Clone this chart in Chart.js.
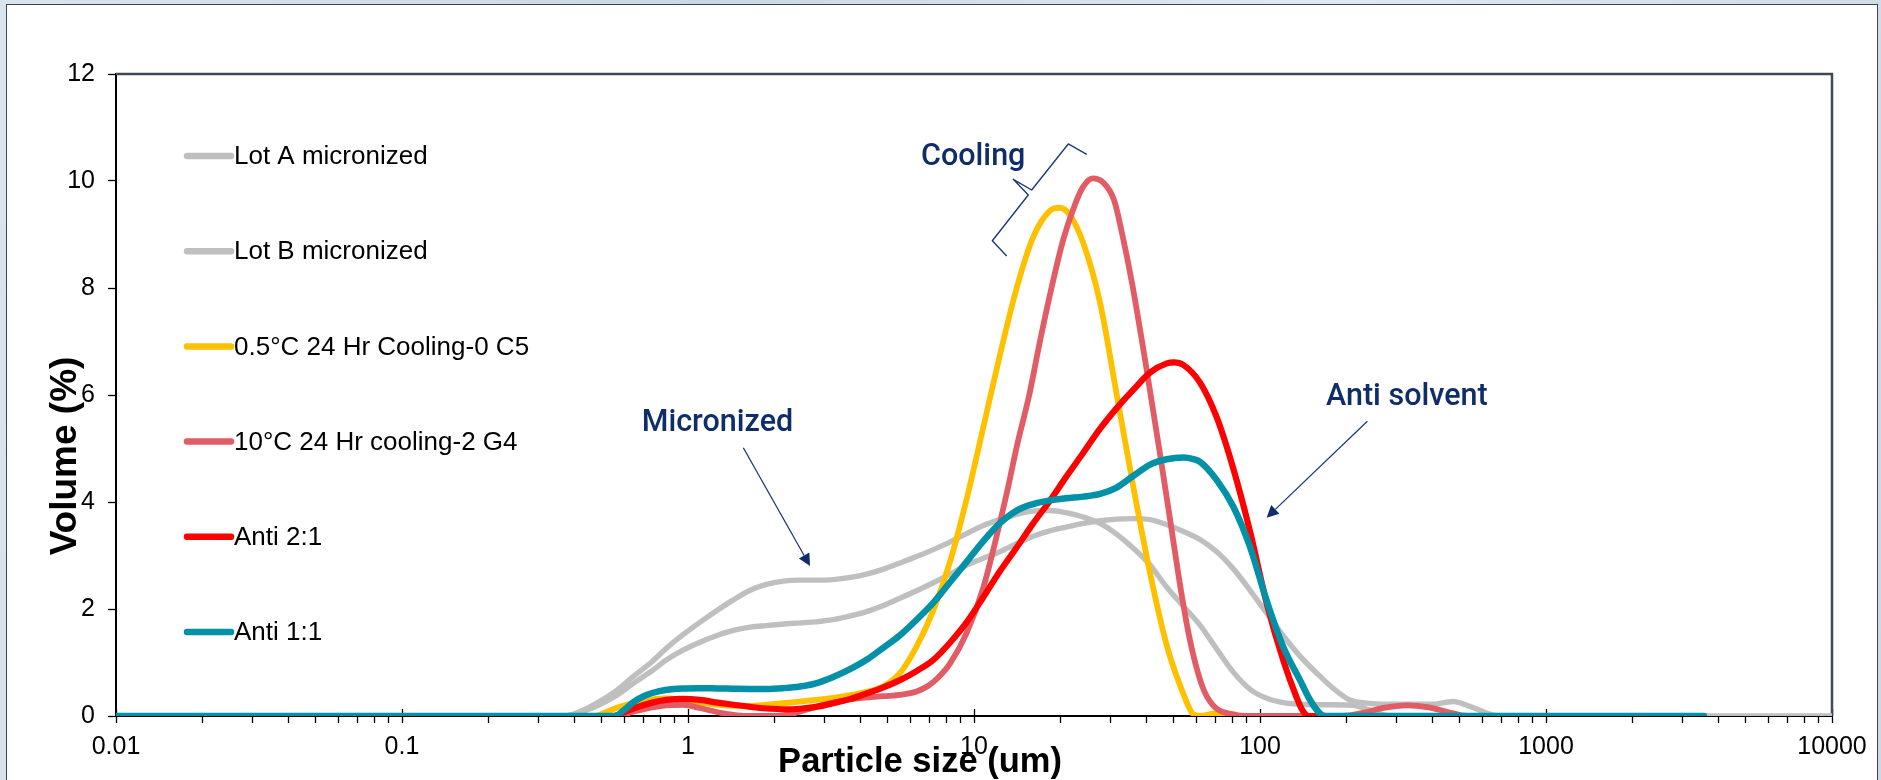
<!DOCTYPE html>
<html>
<head>
<meta charset="utf-8">
<title>Particle size distribution</title>
<script src="https://cdn.jsdelivr.net/npm/chart.js@4.4.1/dist/chart.umd.min.js"></script>
<style>
  html, body { margin: 0; padding: 0; }
  body {
    width: 1881px; height: 780px; overflow: hidden; position: relative;
    background: linear-gradient(100deg, #dae4ec 0%, #cad8e3 35%, #e0e8ef 65%, #ccd9e4 100%);
  }
  #panel {
    position: absolute; left: 6px; top: 4px; width: 1872px; height: 810px;
    background: #fff; border: 1.5px solid #3b4652; box-sizing: border-box;
  }
  #chart { position: absolute; left: 0; top: 0; }
</style>
</head>
<body>
<div id="panel"></div>
<canvas id="chart" width="1881" height="780"></canvas>
<script>
// Axis ticks
const xTickValues = [0.01, 0.1, 1, 10, 100, 1000, 10000];
const xTickLabels = ['0.01', '0.1', '1', '10', '100', '1000', '10000'];
const yTickValues = [0, 2, 4, 6, 8, 10, 12];

// Series names (legend order)
const seriesNames = [
  'Lot A micronized',
  'Lot B micronized',
  '0.5°C 24 Hr Cooling-0 C5',
  '10°C 24 Hr cooling-2 G4',
  'Anti 2:1',
  'Anti 1:1'
];

// Particle size (um) / volume (%) per sample
const lotASize = [0.01, 0.37, 0.43, 0.49, 0.56, 0.644, 0.75, 0.842, 0.96, 1.1, 1.27, 1.44, 1.65, 1.88, 2.15, 2.46, 2.8, 3.22, 3.7, 4.21, 4.8, 5.51, 6.3, 7.21, 8.24, 9.42, 10.78, 12.3, 14.1, 16.1, 18.4, 21, 24.1, 27.6, 31.5, 36, 41.3, 47, 54, 61.7, 70.6, 80.7, 92.3, 105.6, 120.6, 138, 170, 210, 240, 270, 290];
const lotAVolume = [0, 0, 0.11, 0.27, 0.47, 0.74, 1.02, 1.27, 1.52, 1.75, 1.98, 2.17, 2.35, 2.46, 2.52, 2.54, 2.54, 2.55, 2.59, 2.65, 2.74, 2.86, 2.98, 3.11, 3.25, 3.41, 3.56, 3.67, 3.77, 3.83, 3.84, 3.8, 3.72, 3.6, 3.4, 3.14, 2.82, 2.42, 2.05, 1.7, 1.25, 0.82, 0.5, 0.33, 0.25, 0.22, 0.21, 0.2, 0.12, 0.02, 0];

const lotBSize = [0.01, 0.37, 0.43, 0.49, 0.56, 0.644, 0.75, 0.842, 0.96, 1.1, 1.27, 1.44, 1.65, 1.88, 2.15, 2.46, 2.8, 3.22, 3.7, 4.21, 4.8, 5.51, 6.3, 7.21, 8.24, 9.42, 10.78, 12.3, 14.1, 16.1, 18.4, 21, 24.1, 27.6, 31.5, 36, 41.3, 47, 54, 61.7, 70.6, 80.7, 92.3, 105.6, 120.6, 138, 158, 180, 206, 236, 270, 309, 360, 404, 440, 474, 528, 604, 650, 691, 10000];
const lotBVolume = [0, 0, 0.09, 0.21, 0.38, 0.61, 0.85, 1.05, 1.23, 1.38, 1.51, 1.6, 1.66, 1.69, 1.72, 1.74, 1.76, 1.8, 1.87, 1.95, 2.06, 2.2, 2.34, 2.49, 2.65, 2.82, 2.95, 3.07, 3.22, 3.36, 3.46, 3.53, 3.6, 3.65, 3.68, 3.69, 3.67, 3.58, 3.45, 3.3, 3.07, 2.75, 2.35, 1.92, 1.5, 1.12, 0.8, 0.52, 0.3, 0.24, 0.22, 0.22, 0.22, 0.22, 0.25, 0.27, 0.2, 0.08, 0.02, 0, 0];

const cool05Size = [0.01, 0.47, 0.53, 0.6, 0.7, 0.842, 0.96, 1.1, 1.27, 1.44, 1.65, 1.88, 2.15, 2.46, 2.8, 3.22, 3.7, 4.21, 4.8, 5.51, 6.3, 7.21, 8.24, 9.42, 10.78, 12.3, 14.1, 16.1, 18.4, 19.9, 21.6, 24.1, 27.6, 31.5, 36.1, 41.3, 47.2, 54, 58.5, 62, 70, 80, 86, 3565];
const cool05Volume = [0, 0, 0.1, 0.2, 0.29, 0.33, 0.3, 0.25, 0.21, 0.19, 0.19, 0.21, 0.24, 0.27, 0.3, 0.34, 0.39, 0.45, 0.55, 0.8, 1.3, 1.98, 2.88, 4.05, 5.4, 6.73, 8.0, 8.95, 9.44, 9.5, 9.37, 8.84, 7.72, 6.03, 4.27, 2.66, 1.32, 0.41, 0.03, 0, 0.05, 0.04, 0, 0];

const cool10Size = [0.01, 0.56, 0.644, 0.75, 0.842, 0.96, 1.1, 1.27, 1.44, 1.6, 2.0, 2.3, 2.72, 3.22, 3.9, 4.8, 5.6, 6.3, 6.9, 7.5, 8.24, 9.42, 10.78, 12.3, 13.0, 14.2, 15.6, 17, 18.7, 20.5, 22.4, 24, 26, 28.2, 30.9, 33, 35.7, 39.8, 44.4, 48.4, 52, 56, 60, 64, 70, 80, 90, 195, 230, 270, 326, 390, 450, 528, 3565];
const cool10Volume = [0, 0, 0.08, 0.16, 0.2, 0.21, 0.15, 0.07, 0.02, 0, 0, 0.04, 0.15, 0.25, 0.33, 0.37, 0.4, 0.46, 0.56, 0.72, 0.98, 1.55, 2.4, 3.6, 4.15, 5.1, 6.0, 7.0, 8.02, 8.9, 9.52, 9.88, 10.05, 9.98, 9.64, 9.0, 8.09, 6.6, 5.0, 3.7, 2.6, 1.6, 0.9, 0.45, 0.15, 0.03, 0, 0, 0.06, 0.15, 0.2, 0.16, 0.08, 0, 0];

const anti21Size = [0.01, 0.55, 0.6, 0.644, 0.75, 0.842, 0.96, 1.1, 1.27, 1.44, 1.65, 1.88, 2.2, 2.46, 2.8, 3.22, 3.7, 4.21, 4.8, 5.51, 6.3, 7.21, 8.24, 9.42, 10.78, 12.3, 14.1, 16.1, 18.4, 21, 24.1, 27.6, 31.5, 36.1, 41.3, 47.2, 50, 54, 61.7, 70.6, 80.7, 92.3, 105.6, 120.6, 134, 141, 148, 3565];
const anti21Volume = [0, 0, 0.07, 0.14, 0.25, 0.3, 0.32, 0.3, 0.25, 0.21, 0.17, 0.14, 0.125, 0.135, 0.17, 0.24, 0.32, 0.42, 0.53, 0.67, 0.84, 1.05, 1.37, 1.75, 2.22, 2.7, 3.15, 3.6, 4.02, 4.47, 4.92, 5.37, 5.75, 6.1, 6.42, 6.59, 6.61, 6.56, 6.23, 5.58, 4.62, 3.45, 2.1, 1.04, 0.36, 0.1, 0, 0];

const anti11Size = [0.01, 0.555, 0.6, 0.644, 0.7, 0.75, 0.842, 0.96, 1.1, 1.27, 1.44, 1.65, 1.88, 2.15, 2.46, 2.8, 3.22, 3.7, 4.21, 4.8, 5.51, 6.3, 7.21, 8.24, 9.42, 10.78, 12.3, 14.1, 16.1, 18.4, 21, 24.1, 27.6, 31.5, 36.1, 41.3, 47.2, 54, 58.5, 61.7, 70.6, 80.7, 92.3, 105.6, 120.6, 138, 150, 162, 170, 3565];
const anti11Volume = [0, 0, 0.12, 0.26, 0.37, 0.43, 0.49, 0.515, 0.52, 0.515, 0.51, 0.505, 0.505, 0.52, 0.55, 0.61, 0.73, 0.88, 1.05, 1.27, 1.51, 1.8, 2.12, 2.5, 2.88, 3.27, 3.6, 3.84, 3.96, 4.03, 4.07, 4.1, 4.15, 4.27, 4.49, 4.7, 4.8, 4.83, 4.8, 4.75, 4.41, 3.91, 3.16, 2.15, 1.29, 0.67, 0.29, 0.05, 0, 0];

const seriesSizes = [lotASize, lotBSize, cool05Size, cool10Size, anti21Size, anti11Size];
const seriesVolumes = [lotAVolume, lotBVolume, cool05Volume, cool10Volume, anti21Volume, anti11Volume];

// Line styles, one per series
const seriesColors = ['#bfbfbf', '#bfbfbf', '#ffc000', '#e15c64', '#ff0000', '#0391a8'];
const seriesWidths = [5.4, 5.4, 5.8, 5.8, 6.2, 6.5];

// Callouts placed in data units (um, %)
const notes = [
  { text: 'Cooling', x: 6.53, y: 10.3 },
  { text: 'Micronized', x: 0.689, y: 5.333 },
  { text: 'Anti solvent', x: 170.1, y: 5.813 }
];
const arrows = [
  { from: [1.561, 5.015], to: [2.671, 2.804] },
  { from: [237.3, 5.508], to: [105.5, 3.707] }
];
const brace = [[24.79, 10.499], [21.36, 10.692], [15.91, 9.832], [13.72, 10.032], [15.48, 9.738], [11.59, 8.884], [13.01, 8.598]];

// Log axis ticks: decades plus 2..9 minor steps
const xAxisTicks = [];
xTickValues.forEach((v, i) => {
  xAxisTicks.push({ value: v, major: true });
  if (i < xTickValues.length - 1) {
    for (let k = 2; k <= 9; k++) xAxisTicks.push({ value: +(v * k).toPrecision(3), major: false });
  }
});

const datasets = seriesNames.map((name, i) => ({
  label: name,
  data: seriesSizes[i].map((s, j) => ({ x: s, y: seriesVolumes[i][j] })),
  borderColor: seriesColors[i],
  backgroundColor: seriesColors[i],
  borderWidth: seriesWidths[i],
  pointRadius: 0,
  pointHoverRadius: 0,
  fill: false,
  cubicInterpolationMode: 'monotone',
  borderCapStyle: 'round',
  borderJoinStyle: 'round',
  // later series sit on top
  order: seriesNames.length - 1 - i
}));

const NAVY = '#0f2d69';

function drawArrow(ctx, x0, y0, x1, y1) {
  const ang = Math.atan2(y1 - y0, x1 - x0), L = 12, W = 6;
  const bx = x1 - L * Math.cos(ang), by = y1 - L * Math.sin(ang);
  ctx.beginPath(); ctx.moveTo(x0, y0); ctx.lineTo(bx, by); ctx.stroke();
  ctx.beginPath();
  ctx.moveTo(x1, y1);
  ctx.lineTo(bx + W * Math.sin(ang), by - W * Math.cos(ang));
  ctx.lineTo(bx - W * Math.sin(ang), by + W * Math.cos(ang));
  ctx.closePath(); ctx.fill();
}

const decor = {
  id: 'decor',
  beforeDatasetsDraw(chart) {
    const { ctx, chartArea: a, scales: { x } } = chart;
    ctx.save();
    // inner half of the decade ticks
    ctx.strokeStyle = '#000'; ctx.lineWidth = 1.3;
    xTickValues.forEach(v => {
      const px = Math.round(x.getPixelForValue(v)) + 0.5;
      ctx.beginPath(); ctx.moveTo(px, a.bottom - 7); ctx.lineTo(px, a.bottom); ctx.stroke();
    });
    // plot frame, top and right
    ctx.strokeStyle = '#3e4957'; ctx.lineWidth = 2.5;
    ctx.beginPath(); ctx.moveTo(a.left, a.top); ctx.lineTo(a.right, a.top); ctx.lineTo(a.right, a.bottom); ctx.stroke();
    ctx.restore();
  },
  afterDraw(chart) {
    const { ctx, chartArea: a, scales: { x, y } } = chart;
    ctx.save();

    // legend inside the plot
    ctx.font = '26px "Liberation Sans", Arial, sans-serif';
    ctx.textBaseline = 'middle'; ctx.textAlign = 'left';
    chart.data.datasets.forEach((ds, i) => {
      const ly = a.top + 82 + i * 95.2;
      const lx = a.left + 71;
      ctx.strokeStyle = ds.borderColor; ctx.lineWidth = 6.5; ctx.lineCap = 'round';
      ctx.beginPath(); ctx.moveTo(lx, ly); ctx.lineTo(lx + 44, ly); ctx.stroke();
      ctx.fillStyle = '#000';
      ctx.fillText(ds.label, lx + 47, ly + 1);
    });

    // callout texts
    ctx.fillStyle = NAVY;
    ctx.font = '500 30.5px Roboto, "Liberation Sans", sans-serif';
    ctx.textBaseline = 'alphabetic';
    notes.forEach(n => ctx.fillText(n.text, x.getPixelForValue(n.x), y.getPixelForValue(n.y)));

    // arrows
    ctx.strokeStyle = '#1d3b74'; ctx.lineWidth = 1.3; ctx.lineCap = 'butt';
    arrows.forEach(ar => drawArrow(ctx,
      x.getPixelForValue(ar.from[0]), y.getPixelForValue(ar.from[1]),
      x.getPixelForValue(ar.to[0]), y.getPixelForValue(ar.to[1])));

    // brace around the cooling peaks
    ctx.lineJoin = 'round'; ctx.lineWidth = 1.4;
    ctx.beginPath();
    brace.forEach((p, i) => {
      const px = x.getPixelForValue(p[0]), py = y.getPixelForValue(p[1]);
      if (i === 0) ctx.moveTo(px, py); else ctx.lineTo(px, py);
    });
    ctx.stroke();

    // axis titles
    ctx.fillStyle = '#000';
    ctx.font = 'bold 34.5px "Liberation Sans", Arial, sans-serif';
    ctx.textAlign = 'center'; ctx.textBaseline = 'alphabetic';
    ctx.fillText('Particle size (um)', 920, 772);
    ctx.translate(76, 456);
    ctx.rotate(-Math.PI / 2);
    ctx.font = 'bold 37px "Liberation Sans", Arial, sans-serif';
    ctx.fillText('Volume (%)', 0, 0);
    ctx.restore();
  }
};

Chart.defaults.font.family = '"Liberation Sans", Arial, sans-serif';

new Chart(document.getElementById('chart'), {
  type: 'line',
  data: { datasets },
  options: {
    responsive: false,
    animation: false,
    devicePixelRatio: 1,
    events: [],
    layout: { padding: { left: 0, top: 74, right: 49, bottom: 0 } },
    plugins: { legend: { display: false }, tooltip: { enabled: false } },
    scales: {
      x: {
        type: 'logarithmic',
        min: 0.01, max: 10000,
        afterBuildTicks: s => { s.ticks = xAxisTicks.map(t => ({ value: t.value, major: t.major })); },
        afterFit: s => { s.height = 64; },
        ticks: {
          autoSkip: false, maxRotation: 0, minRotation: 0, padding: 9,
          color: '#000', font: { size: 25 },
          callback: v => { const k = xTickValues.indexOf(v); return k >= 0 ? xTickLabels[k] : ''; }
        },
        grid: { display: true, drawOnChartArea: false, drawTicks: true, tickLength: 7, tickColor: '#000', tickWidth: 1.3 },
        border: { display: true, color: '#000', width: 2 }
      },
      y: {
        type: 'linear',
        min: 0, max: 12,
        afterBuildTicks: s => { s.ticks = yTickValues.map(v => ({ value: v })); },
        afterFit: s => { s.width = 116; },
        ticks: { padding: 13, color: '#000', font: { size: 25 } },
        grid: { drawOnChartArea: false, drawTicks: true, tickLength: 8, tickColor: '#000', tickWidth: 1.3 },
        border: { display: true, color: '#000', width: 2 }
      }
    }
  },
  plugins: [decor]
});
</script>
</body>
</html>
